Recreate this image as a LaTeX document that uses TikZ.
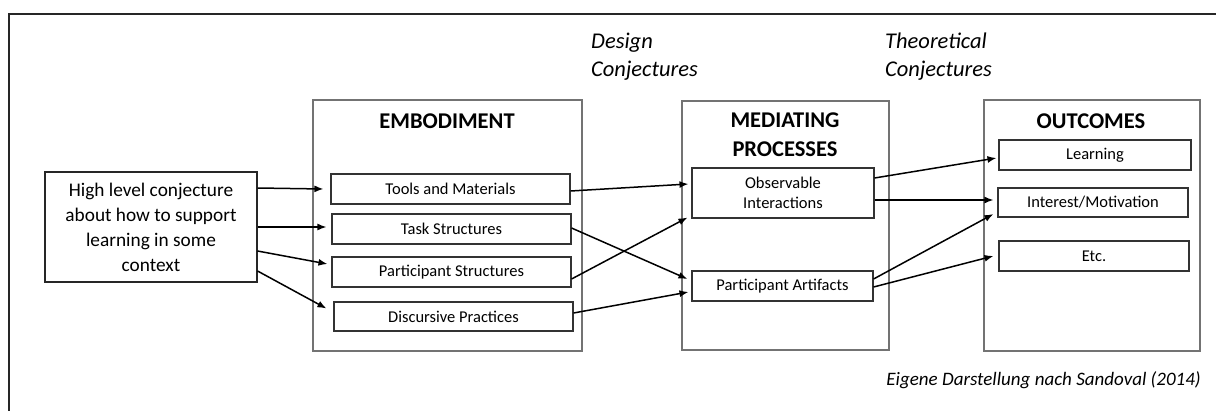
\documentclass[tikz,border=0pt]{standalone}
\usepackage{fontspec}
\setmainfont{Carlito}
\usetikzlibrary{arrows.meta}
\begin{document}
\begin{tikzpicture}[x=1pt,y=-1pt,
  bigbox/.style={draw=black!55,line width=1.2pt,inner sep=0pt},
  smallbox/.style={draw=black!80,line width=1.1pt,inner sep=0pt,font=\fontsize{16.5}{20}\selectfont,align=center},
  hlbox/.style={draw=black!85,line width=1.1pt,inner sep=0pt,font=\fontsize{19.3}{25}\selectfont,align=center},
  title/.style={font=\fontsize{22.5}{29}\selectfont\bfseries,align=center,inner sep=0pt},
  conj/.style={font=\fontsize{22.5}{27.5}\selectfont\itshape,align=left,inner sep=0pt},
  arr/.style={-{Latex[length=9pt,width=7pt]},line width=1.5pt,black}]
\useasboundingbox (0,0) rectangle (1216,410);
\fill[white] (0,0) rectangle (1216,410);
\draw[line width=2pt,black!85] (9,412) -- (9,14) -- (1218,14);

% high level box
\node[hlbox,minimum width=212pt,minimum height=110pt] (hl) at (151,227)
  {High level conjecture\\about how to support\\learning in some\\context};

% embodiment
\node[bigbox,minimum width=269pt,minimum height=251pt] (emb) at (447.5,225.5) {};
\node[title] (embt) at (447,121) {EMBODIMENT};
\node[smallbox,minimum width=239pt,minimum height=30pt] (tools) at (450.5,189) {Tools and Materials};
\node[smallbox,minimum width=239pt,minimum height=30pt] (task) at (451.5,229) {Task Structures};
\node[smallbox,minimum width=239pt,minimum height=30pt] (ps) at (451.5,272) {Participant Structures};
\node[smallbox,minimum width=239pt,minimum height=29pt] (disc) at (453.5,316.5) {Discursive Practices};

% mediating processes
\node[bigbox,minimum width=207pt,minimum height=249pt] (med) at (785.5,225.5) {};
\node[title] (medt) at (785,135) {MEDIATING\\PROCESSES};
\node[smallbox,minimum width=182pt,minimum height=50pt] (obs) at (783,193) {Observable\\Interactions};
\node[smallbox,minimum width=181pt,minimum height=30pt] (pa) at (782.5,286) {Participant Artifacts};

% outcomes
\node[bigbox,minimum width=216pt,minimum height=251pt] (out) at (1092,225.5) {};
\node[title] (outt) at (1091,121) {OUTCOMES};
\node[smallbox,minimum width=192pt,minimum height=30pt] (learn) at (1095,155) {Learning};
\node[smallbox,minimum width=190pt,minimum height=29pt] (inter) at (1093,202.5) {Interest/Motivation};
\node[smallbox,minimum width=190pt,minimum height=30pt] (etc) at (1094,256) {Etc.};

% labels
\node[conj,anchor=north west] (dc) at (591,33) {Design\\Conjectures};
\node[conj,anchor=north west] (tc) at (885,33) {Theoretical\\Conjectures};
\node[font=\fontsize{19}{23}\selectfont\itshape,anchor=base east,inner sep=0pt] (src) at (1201,385) {Eigene Darstellung nach Sandoval (2014)};

% arrows
\draw[arr] ([yshift=39pt]hl.east) -- ([xshift=-7pt]tools.west);
\draw[arr] (hl.east) -- ([xshift=-5pt,yshift=2pt]task.west);
\draw[arr] ([yshift=-24pt]hl.east) -- ([xshift=-4pt,yshift=8pt]ps.west);
\draw[arr] ([yshift=-44pt]hl.east) -- ([xshift=-7pt,yshift=8pt]disc.west);

\draw[arr] ([yshift=-2pt]tools.east) -- ([xshift=-3pt,yshift=9pt]obs.west);
\draw[arr] ([yshift=1pt]task.east) -- ([xshift=-4pt,yshift=7pt]pa.west);
\draw[arr] ([yshift=-7pt]ps.east) -- ([xshift=-4pt,yshift=1pt]obs.south west);
\draw[arr] ([yshift=3.5pt]disc.east) -- ([xshift=-3pt,yshift=-6pt]pa.west);

\draw[arr] ([yshift=15pt]obs.east) -- ([xshift=-2pt,yshift=-3pt]learn.west);
\draw[arr] ([yshift=-7pt]obs.east) -- ([xshift=-4pt,yshift=2.5pt]inter.west);
\draw[arr] ([yshift=7pt]pa.east) -- ([xshift=-4pt,yshift=-11.5pt]inter.west);
\draw[arr] ([yshift=-1pt]pa.east) -- ([xshift=-5pt]etc.west);
\end{tikzpicture}
\end{document}
